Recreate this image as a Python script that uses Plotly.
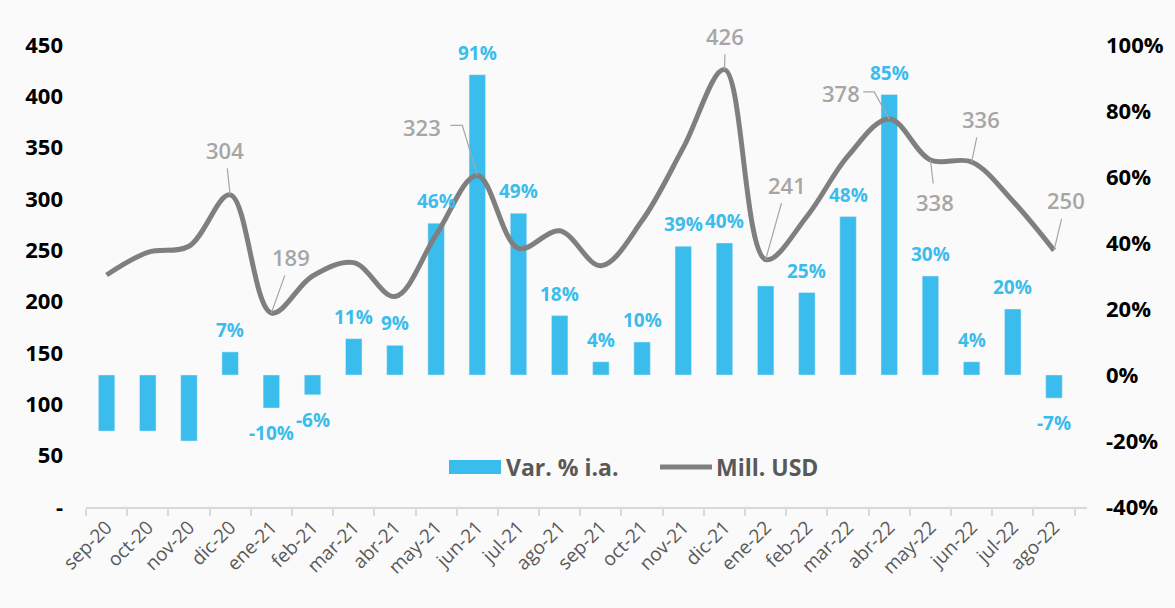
import plotly.graph_objects as go

categories = ["sep-20", "oct-20", "nov-20", "dic-20", "ene-21", "feb-21", "mar-21", "abr-21",
              "may-21", "jun-21", "jul-21", "ago-21", "sep-21", "oct-21", "nov-21", "dic-21",
              "ene-22", "feb-22", "mar-22", "abr-22", "may-22", "jun-22", "jul-22", "ago-22"]
var_pct = [-17, -17, -20, 7, -10, -6, 11, 9, 46, 91, 49, 18, 4, 10, 39, 40,
           27, 25, 48, 85, 30, 4, 20, -7]
show_pct_label = [False, False, False, True, True, True, True, True, True, True, True, True,
                  True, True, True, True, False, True, True, True, True, True, True, True]
mill_usd = [226, 248, 254, 304, 189, 225, 238, 205, 265, 323, 252, 269, 235, 279, 350, 426,
            241, 283, 342, 378, 338, 336, 298, 250]
# line labels with straight leaders: (category index, text offset x px, text offset y px)
line_labels = [(3, -5, -45), (4, 20, -56), (15, 1, -34), (16, 21, -75),
               (20, 5, 42), (21, 9, -43), (23, 12, -50)]
# line labels with elbow leaders: (category index, text shift x, text shift y, elbow x, elbow start x, elbow y)
elbow_labels = [(9, -55, 48, -15, -27, 50), (19, -48, 26, -15, -26, 27)]

left_ticks = [0, 50, 100, 150, 200, 250, 300, 350, 400, 450]
left_ticktext = ["-", "50", "100", "150", "200", "250", "300", "350", "400", "450"]
right_ticks = [-40, -20, 0, 20, 40, 60, 80, 100]
right_ticktext = ["-40%", "-20%", "0%", "20%", "40%", "60%", "80%", "100%"]

BLUE = "#3ABCEC"
GRAY = "#7F7F7F"
LABEL_GRAY = "#A6A6A6"
BG = "#FAFAFA"
FONT = "Open Sans"
LABEL_FONT = dict(family=FONT, size=22, color=LABEL_GRAY, weight=600)

fig = go.Figure()
fig.add_trace(go.Bar(
    x=categories, y=var_pct, name="Var. % i.a.", marker_color=BLUE, width=0.4,
    yaxis="y", showlegend=False,
))
fig.add_trace(go.Scatter(
    x=categories, y=mill_usd, name="Mill. USD", mode="lines",
    line=dict(color=GRAY, width=5, shape="spline", smoothing=1.0),
    yaxis="y2", showlegend=False, cliponaxis=False,
))

# bar value labels
for cat, v, show in zip(categories, var_pct, show_pct_label):
    if not show:
        continue
    fig.add_annotation(
        x=cat, y=v, xref="x", yref="y", text=f"{v}%", showarrow=False,
        yanchor="middle", yshift=22 if v >= 0 else -25,
        font=dict(family=FONT, size=19, color=BLUE, weight="bold"),
    )

# line value labels with straight leader lines
for idx, dx, dy in line_labels:
    fig.add_annotation(
        x=categories[idx], y=mill_usd[idx], xref="x", yref="y2",
        text=str(mill_usd[idx]),
        showarrow=True, arrowhead=0, arrowwidth=1.2, arrowcolor=LABEL_GRAY,
        ax=dx, ay=dy, standoff=0, startstandoff=2, font=LABEL_FONT,
    )

# line value labels with elbow leader lines
for idx, sx, sy, ex, ex0, ey in elbow_labels:
    fig.add_annotation(
        x=categories[idx], y=mill_usd[idx], xref="x", yref="y2",
        text=str(mill_usd[idx]), showarrow=False, xshift=sx, yshift=sy,
        font=LABEL_FONT,
    )
    fig.add_shape(
        type="path", xref="x", yref="y2", xsizemode="pixel", ysizemode="pixel",
        xanchor=categories[idx], yanchor=mill_usd[idx],
        path=f"M {ex0},{ey} L {ex},{ey} L 0,0",
        line=dict(color=LABEL_GRAY, width=1.2),
    )

W, H = 1175, 608
L, T = 86, 45
pw, ph = 1001, 462
R, B = W - L - pw, H - T - ph

def px(x):
    return (x - L) / pw

def py(y):
    return (T + ph - y) / ph

fig.add_shape(type="rect", xref="paper", yref="paper",
              x0=px(449), x1=px(501), y0=py(474), y1=py(460),
              fillcolor=BLUE, line=dict(width=0))
fig.add_annotation(xref="paper", yref="paper", x=px(504), y=py(467), xanchor="left",
                   yanchor="middle", showarrow=False, text="Var. % i.a.",
                   font=dict(family=FONT, size=23, color="#595959", weight="bold"))
fig.add_shape(type="line", xref="paper", yref="paper",
              x0=px(660), x1=px(712), y0=py(467), y1=py(467),
              line=dict(color=GRAY, width=5))
fig.add_annotation(xref="paper", yref="paper", x=px(714), y=py(467), xanchor="left",
                   yanchor="middle", showarrow=False, text="Mill. USD",
                   font=dict(family=FONT, size=23, color="#595959", weight="bold"))

fig.update_layout(
    width=W, height=H, margin=dict(l=L, r=R, t=T, b=B, autoexpand=False),
    paper_bgcolor=BG, plot_bgcolor=BG, showlegend=False,
    font=dict(family=FONT),
    xaxis=dict(
        type="category", tickangle=-45, showgrid=False, automargin=False,
        tickfont=dict(family=FONT, size=19, color="#595959"),
        showline=True, linecolor="#D9D9D9", linewidth=1.5,
        ticks="outside", tickson="boundaries", ticklen=7, tickcolor="#D9D9D9", tickwidth=1.5,
    ),
    yaxis=dict(
        side="right", range=[-40, 100], tickvals=right_ticks, ticktext=right_ticktext,
        showgrid=False, zeroline=False, ticklabelstandoff=18, automargin=False,
        tickfont=dict(family=FONT, size=22, color="#000000", weight="bold"),
    ),
    yaxis2=dict(
        side="left", overlaying="y", range=[0, 450], tickvals=left_ticks,
        ticktext=left_ticktext, showgrid=False, zeroline=False, ticklabelstandoff=22,
        automargin=False,
        tickfont=dict(family=FONT, size=22, color="#000000", weight="bold"),
    ),
    bargap=0.6,
)

fig.write_html(
    "out.html",
    config={"displayModeBar": False},
    post_script="document.body.style.margin='0';document.body.style.overflow='hidden';"
                "document.body.style.background='#FAFAFA';",
)
